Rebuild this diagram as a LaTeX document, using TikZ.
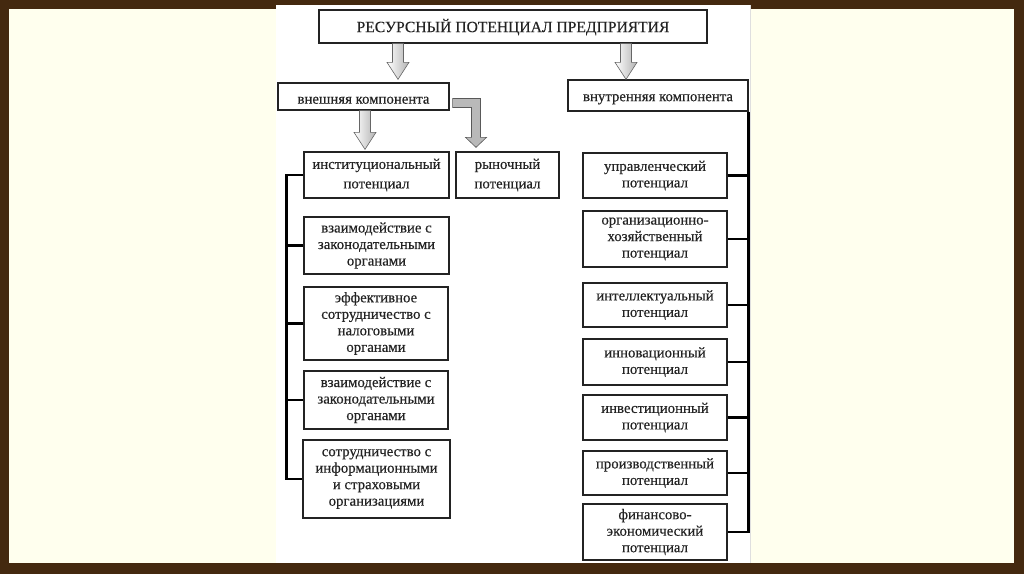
\documentclass[tikz,border=0pt]{standalone}
\usepackage{fontspec}
\setmainfont{Liberation Serif}[FakeBold=0.35]
\usetikzlibrary{calc}
\definecolor{framebrown}{RGB}{68,41,15}
\definecolor{cream}{RGB}{255,255,238}
\definecolor{inkc}{RGB}{35,35,35}
\newcommand\blockdown[3][]{%
  \path[blockarrow,#1] let \p1=#2, \p2=#3 in
    (\x1-5.5pt,\y1) -- (\x1+5.5pt,\y1) -- (\x1+5.5pt,\y2+17pt) -- (\x1+11pt,\y2+17pt)
    -- (\x1,\y2) -- (\x1-11pt,\y2+17pt) -- (\x1-5.5pt,\y2+17pt) -- cycle;}
\begin{document}
\begin{tikzpicture}[x=1pt,y=-1pt,
  box/.style={draw=inkc,line width=1.3pt,fill=white,text=inkc,align=center,inner sep=0pt,
    font=\fontsize{14.8}{16.5}\selectfont,execute at begin node={\rule{0pt}{14.5pt}}},
  widebox/.style={box,font=\fontsize{14.8}{19.5}\selectfont},
  blockarrow/.style={left color=white,right color=gray!60,draw=gray!80!black,line width=0.6pt},
  bracket/.style={draw=black,line width=2.4pt}]
\useasboundingbox (0,0) rectangle (1024,574);
\fill[framebrown] (0,0) rectangle (1024,574);
\fill[cream] (9,9) rectangle (1014,563);
\fill[gray!25] (276,5) rectangle (751,563);
\fill[white] (276,5) rectangle (749.5,563);

\node[box,minimum width=388pt,minimum height=33pt,font=\fontsize{15.6}{17}\selectfont] (title) at (513,26.5) {РЕСУРСНЫЙ ПОТЕНЦИАЛ ПРЕДПРИЯТИЯ};
\node[box,minimum width=171pt,minimum height=27pt] (ext) at (363.5,96.5) {внешняя компонента};
\node[box,minimum width=180pt,minimum height=31pt] (int) at (658,95.5) {внутренняя компонента};

\node[widebox,minimum width=145pt,minimum height=46pt] (inst) at (376.5,175) {институциональный\\потенциал};
\node[widebox,minimum width=103pt,minimum height=46pt] (market) at (507.5,175) {рыночный\\потенциал};
\node[box,minimum width=145pt,minimum height=57pt] (e1) at (376.5,245.5) {взаимодействие с\\законодательными\\органами};
\node[box,minimum width=144pt,minimum height=73pt] (e2) at (376,323.5) {эффективное\\сотрудничество с\\налоговыми\\органами};
\node[box,minimum width=144pt,minimum height=58pt] (e3) at (376,400) {взаимодействие с\\законодательными\\органами};
\node[box,minimum width=147pt,minimum height=78pt] (e4) at (376.5,479) {сотрудничество с\\информационными\\и страховыми\\организациями};

\node[box,minimum width=144pt,minimum height=45pt] (r1) at (655,175.5) {управленческий\\потенциал};
\node[box,minimum width=144pt,minimum height=56pt] (r2) at (655,239) {организационно-\\хозяйственный\\потенциал};
\node[box,minimum width=144pt,minimum height=44pt] (r3) at (655,305) {интеллектуальный\\потенциал};
\node[box,minimum width=144pt,minimum height=46pt] (r4) at (655,362) {инновационный\\потенциал};
\node[box,minimum width=144pt,minimum height=45pt] (r5) at (655,417.5) {инвестиционный\\потенциал};
\node[box,minimum width=144pt,minimum height=44pt] (r6) at (655,473) {производственный\\потенциал};
\node[box,minimum width=144pt,minimum height=56pt] (r7) at (655,532) {финансово-\\экономический\\потенциал};

% block arrows
\coordinate (ax1) at (398,0);
\coordinate (ax2) at (626,0);
\coordinate (ax3) at (365,0);
\blockdown{(title.south -| ax1)}{($(ext.north -| ax1)+(0,-3)$)}
\blockdown{(title.south -| ax2)}{($(int.north -| ax2)+(0,0)$)}
\blockdown{(ext.south -| ax3)}{($(inst.north -| ax3)+(0,-2)$)}
% bent arrow
\coordinate (bstart) at ($(ext.east)+(3,0)$);
\coordinate (bend) at ($(market.north)+(-31.5,-4)$);
\path[draw=gray!70!black,fill=gray!55,line width=0.6pt] let \p1=(bstart), \p2=(bend) in
  (\x1,\y1-2pt) -- (\x2+4.5pt,\y1-2pt) -- (\x2+4.5pt,\y2+10pt) -- (\x2+10.5pt,\y2+10pt)
  -- (\x2,\y2) -- (\x2-10.5pt,\y2+10pt) -- (\x2-4.5pt,\y2+10pt) -- (\x2-4.5pt,\y1-11pt)
  -- (\x1,\y1-11pt) -- cycle;

% left bracket
\draw[bracket] (inst.west) -- ++(-17,0) coordinate (lb) |- (e4.west);
\foreach \n in {e1,e2,e3} \draw[bracket] (\n.west) -- (\n.west -| lb);
% right bracket
\draw[bracket] (int.south east) |- (r7.east);
\foreach \n in {r1,r2,r3,r4,r5,r6} \draw[bracket] (\n.east) -- (\n.east -| int.east);
\end{tikzpicture}
\end{document}
